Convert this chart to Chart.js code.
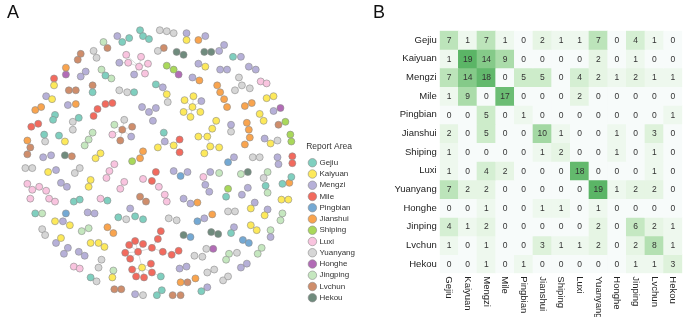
<!DOCTYPE html>
<html>
<head>
<meta charset="utf-8">
<script src="https://cdn.jsdelivr.net/npm/chart.js@4.4.1/dist/chart.umd.min.js"></script>
<style>
  body { margin: 0; background: #fff; font-family: "Liberation Sans", Arial, sans-serif; }
  #wrap { position: relative; width: 685px; height: 317px; overflow: hidden; }
  .tag { position: absolute; font-size: 18px; color: #111; line-height: 1; }
  #chartNet { position: absolute; left: 0; top: 0; }
  #chartHeat { position: absolute; left: 370px; top: 0; }
</style>
</head>
<body>
<div id="wrap">
  <canvas id="chartNet" width="365" height="317"></canvas>
  <canvas id="chartHeat" width="315" height="317"></canvas>
  <div class="tag" style="left:7px;top:3px">A</div>
  <div class="tag" style="left:373px;top:3px">B</div>
</div>
<script>
// ---- panel A: report areas and node positions of the network layout ----
const areas = ["Gejiu", "Kaiyuan", "Mengzi", "Mile", "Pingbian", "Jianshui", "Shiping", "Luxi", "Yuanyang", "Honghe", "Jingping", "Lvchun", "Hekou"];
const areaColors = ["#7fcfbf", "#fde95a", "#b6b0d8", "#f26a5e", "#74a9d4", "#f9a44e", "#a9d85a", "#f9c4df", "#d6d6d6", "#b26bb6", "#c5e7bf", "#cf8d6b", "#6f8b7d"];

const gejiu = [[137,26],[140,32],[146,35],[119,38],[126,34],[231,53],[102,72],[153,81],[89,89],[131,89],[51,112],[49,117],[75,115],[40,132],[55,133],[161,130],[158,276],[229,232],[224,195],[264,184],[290,175],[281,182],[70,200],[76,198],[104,199],[31,212],[115,216],[132,215],[140,218],[87,277],[154,295],[159,290],[199,291]];
const kaiyuan = [[184,36],[203,63],[50,82],[164,91],[48,96],[182,97],[191,93],[190,104],[198,109],[181,109],[188,114],[265,95],[272,93],[258,111],[262,118],[61,139],[214,118],[210,126],[205,134],[196,134],[208,144],[217,145],[202,151],[155,145],[171,143],[269,141],[92,156],[97,151],[44,170],[87,178],[85,185],[280,198],[287,198],[249,207],[263,214],[249,224],[255,229],[51,220],[66,224],[57,237],[87,242],[95,242],[101,246],[139,267],[109,277]];
const mengzi = [[114,32],[184,29],[203,32],[217,47],[222,41],[239,53],[116,59],[131,71],[77,73],[82,68],[196,60],[190,74],[218,66],[225,66],[247,63],[254,66],[160,84],[42,93],[199,98],[64,102],[139,104],[146,109],[153,105],[150,118],[272,108],[229,122],[128,134],[162,139],[263,136],[39,155],[47,153],[232,155],[276,155],[277,162],[52,168],[57,181],[63,185],[171,169],[185,170],[208,170],[203,183],[207,190],[246,186],[240,193],[181,197],[188,202],[253,201],[266,208],[59,220],[84,211],[91,212],[127,207],[202,217],[232,226],[269,236],[52,242],[64,247],[60,253],[75,251],[81,255],[177,268],[184,266],[239,267],[245,263],[205,287],[132,294]];
const mile = [[50,75],[94,106],[102,101],[109,100],[90,113],[27,124],[34,121],[177,137],[177,150],[291,154],[291,161],[149,179],[153,170],[158,230],[155,238],[149,247],[160,251],[169,254],[176,250],[140,243],[132,240],[126,244],[122,252],[135,251],[127,258],[129,269],[133,276],[141,277],[149,272],[148,263]];
const pingbian = [[226,160],[62,212],[178,174],[195,220],[188,236],[241,239],[247,242]];
const jianshui = [[196,36],[62,64],[197,77],[215,82],[218,89],[222,96],[225,104],[31,107],[37,104],[72,101],[243,103],[250,100],[245,120],[247,127],[248,135],[243,142],[23,138],[137,156],[140,149],[288,181],[195,201],[210,213],[104,226],[110,232],[178,282],[193,278]];
const shiping = [[164,62],[171,66],[284,119],[289,132],[290,139],[129,159],[226,187]];
const luxi = [[123,51],[138,53],[145,60],[136,63],[142,70],[125,59],[259,78],[265,80],[109,132],[111,162],[106,169],[103,176],[121,180],[117,187],[140,177],[156,185],[162,193],[164,200],[201,175],[23,182],[28,188],[35,185],[42,189],[45,197],[51,200],[26,197],[97,197],[70,266],[76,268]];
const yuanyang = [[157,26],[164,27],[171,29],[90,47],[93,54],[155,47],[237,74],[240,82],[233,87],[248,85],[116,87],[124,89],[165,99],[69,119],[69,127],[121,117],[229,129],[276,138],[41,139],[251,155],[258,155],[21,166],[28,166],[71,171],[76,166],[262,176],[123,218],[166,217],[174,219],[226,210],[233,210],[38,228],[41,234],[204,248],[192,255],[200,256],[235,252],[98,259],[95,267],[205,272],[212,269],[221,280],[226,276],[93,281],[140,295]];
const honghe = [[62,71],[176,71],[279,105],[211,248]];
const jingping = [[100,38],[98,66],[108,75],[111,122],[89,130],[85,137],[81,143],[217,171],[239,172],[266,170],[266,191],[38,212],[281,212],[279,219],[78,230],[85,227],[269,229],[110,270],[227,253],[224,259],[260,247],[256,253]];
const lvchun = [[104,44],[77,50],[74,56],[161,44],[65,87],[72,87],[89,82],[119,127],[129,124],[117,138],[277,122],[26,145],[23,152],[68,154],[137,195],[143,200],[111,289],[118,289],[185,282],[170,295],[178,295]];
const hekou = [[174,48],[181,51],[202,48],[209,48],[61,153],[246,170],[181,234],[209,231],[216,233]];
const nodesByArea = [gejiu, kaiyuan, mengzi, mile, pingbian, jianshui, shiping, luxi, yuanyang, honghe, jingping, lvchun, hekou];

// visible links of the larger clusters: [x1, y1, x2, y2]
const links = [
  [136,63,123,51],[136,63,138,53],[136,63,145,60],[136,63,142,70],[136,63,131,71],[136,63,125,59],[125,59,116,59],
  [190,104,182,97],[190,104,191,93],[190,104,199,98],[190,104,198,109],[190,104,188,114],[190,104,181,109],
  [214,118,210,126],[210,126,205,134],[205,134,196,134],[205,134,208,144],[208,144,217,145],[208,144,202,151],
  [119,127,121,117],[119,127,111,122],[119,127,129,124],[119,127,128,134],[119,127,117,138],[119,127,109,132],
  [161,130,162,139],[162,139,155,145],[162,139,171,143],[171,143,177,137],[171,143,177,150],
  [135,251,132,240],[135,251,126,244],[135,251,122,252],[135,251,127,258],[135,251,140,243],[135,251,149,247],
  [149,247,155,238],[155,238,158,230],[149,247,160,251],[160,251,169,254],[169,254,176,250],
  [135,251,139,267],[139,267,129,269],[139,267,133,276],[139,267,141,277],[139,267,149,272],[139,267,148,263],[149,272,158,276]
];

// ---- panel B: co-occurrence counts ----
const rowNames = ["Gejiu", "Kaiyuan", "Mengzi", "Mile", "Pingbian", "Jianshui", "Shiping", "Luxi", "Yuanyang", "Honghe", "Jinping", "Lvchun", "Hekou"];
const colNames = ["Gejiu", "Kaiyuan", "Mengzi", "Mile", "Pingbian", "Jianshui", "Shiping", "Luxi", "Yuanyang", "Honghe", "Jinping", "Lvchun", "Hekou"];
const counts = [
  [7, 1, 7, 1, 0, 2, 1, 1, 7, 0, 4, 1, 0],
  [1, 19, 14, 9, 0, 0, 0, 0, 2, 0, 1, 0, 0],
  [7, 14, 18, 0, 5, 5, 0, 4, 2, 1, 2, 1, 1],
  [1, 9, 0, 17, 0, 0, 0, 2, 0, 0, 0, 0, 0],
  [0, 0, 5, 0, 1, 0, 0, 0, 0, 0, 0, 0, 1],
  [2, 0, 5, 0, 0, 10, 1, 0, 0, 1, 0, 3, 0],
  [1, 0, 0, 0, 0, 1, 2, 0, 0, 1, 0, 1, 0],
  [1, 0, 4, 2, 0, 0, 0, 18, 0, 0, 0, 1, 0],
  [7, 2, 2, 0, 0, 0, 0, 0, 19, 1, 2, 2, 0],
  [0, 0, 1, 0, 0, 1, 1, 0, 1, 0, 0, 0, 0],
  [4, 1, 2, 0, 0, 0, 0, 0, 2, 0, 6, 2, 1],
  [1, 0, 1, 0, 0, 3, 1, 1, 2, 0, 2, 8, 1],
  [0, 0, 1, 0, 1, 0, 0, 0, 0, 0, 1, 1, 3]
];

const FONT = "'Liberation Sans', Arial, sans-serif";

// network
const linkPoints = [];
links.forEach(l => {
  linkPoints.push({ x: l[0], y: l[1] }, { x: l[2], y: l[3] }, { x: null, y: null });
});

new Chart(document.getElementById("chartNet"), {
  type: "scatter",
  data: {
    datasets: [
      ...areas.map((a, i) => ({
        label: a,
        data: nodesByArea[i].map(p => ({ x: p[0], y: p[1] })),
        backgroundColor: areaColors[i],
        borderColor: "#8c8c8c",
        borderWidth: 0.6,
        pointRadius: 3.5,
        order: 0,
      })),
      {
        type: "line",
        label: "links",
        data: linkPoints,
        borderColor: "#d2d2d2",
        borderWidth: 0.8,
        pointRadius: 0,
        spanGaps: false,
        order: 1,
      },
    ],
  },
  options: {
    responsive: false,
    animation: false,
    layout: { padding: { top: 0, bottom: 12 } },
    scales: {
      x: { type: "linear", min: 0, max: 305, display: false },
      y: { type: "linear", min: 0, max: 305, reverse: true, display: false },
    },
    plugins: {
      tooltip: { enabled: false },
      legend: {
        position: "right",
        align: "end",
        title: { display: true, text: "Report Area", position: "start", color: "#333", font: { family: FONT, size: 8.5 }, padding: { top: 0, bottom: 3 } },
        labels: {
          usePointStyle: true,
          pointStyle: "circle",
          boxWidth: 6,
          boxHeight: 6,
          padding: 3.25,
          color: "#333",
          font: { family: FONT, size: 8 },
          filter: item => item.text !== "links",
        },
      },
    },
  },
});

// heatmap
class DownCategoryScale extends Chart.CategoryScale {
  _getXAxisLabelAlignment() {
    return "left";
  }
}
DownCategoryScale.id = "downCategory";
DownCategoryScale.defaults = Chart.CategoryScale.defaults;
Chart.register(DownCategoryScale);

const greenStops = [[0, [247, 251, 250]], [1, [238, 248, 238]], [2, [230, 245, 228]], [5, [205, 236, 202]], [9, [171, 220, 170]], [14, [133, 202, 137]], [19, [91, 181, 102]]];
function greenFor(v) {
  for (let k = 1; k < greenStops.length; k++) {
    const [v1, c1] = greenStops[k];
    const [v0, c0] = greenStops[k - 1];
    if (v <= v1) {
      const t = (v - v0) / (v1 - v0);
      const c = c0.map((c, n) => Math.round(c + (c1[n] - c) * t));
      return "rgb(" + c.join(",") + ")";
    }
  }
  return "rgb(91,181,102)";
}

const cellText = {
  id: "cellText",
  afterDatasetsDraw(chart) {
    const ctx = chart.ctx;
    ctx.save();
    ctx.font = "8.5px " + FONT;
    ctx.fillStyle = "#333";
    ctx.textAlign = "center";
    ctx.textBaseline = "middle";
    chart.data.datasets.forEach((ds, i) => {
      chart.getDatasetMeta(i).data.forEach((bar, j) => {
        ctx.fillText(String(counts[i][j]), bar.x, (bar.y + bar.base) / 2 + 0.5);
      });
    });
    ctx.restore();
  },
};

new Chart(document.getElementById("chartHeat"), {
  type: "bar",
  data: {
    labels: colNames,
    datasets: rowNames.map((r, i) => ({
      label: r,
      data: counts[i].map(() => 1),
      backgroundColor: counts[i].map(greenFor),
      borderWidth: 0,
      barPercentage: 1,
      categoryPercentage: 1,
    })),
  },
  options: {
    responsive: false,
    animation: false,
    layout: { padding: { top: 30.7, right: 2.7, left: 0, bottom: 0 } },
    scales: {
      x: {
        type: "downCategory",
        stacked: true,
        grid: { display: false, drawTicks: false },
        border: { display: false },
        ticks: { minRotation: -90, maxRotation: -90, autoSkip: false, padding: 3, color: "#222", font: { family: FONT, size: 9.5 } },
        afterFit: s => { s.height = 43.7; },
      },
      y: {
        type: "linear",
        stacked: true,
        min: 0,
        max: 13,
        reverse: true,
        grid: { display: false, drawTicks: false },
        border: { display: false },
        afterBuildTicks: s => { s.ticks = rowNames.map((_, i) => ({ value: i + 0.5 })); },
        ticks: { autoSkip: false, padding: 3, color: "#222", font: { family: FONT, size: 9.5 }, callback: (v, i) => rowNames[i] },
        afterFit: s => { s.width = 69.7; },
      },
    },
    plugins: { legend: { display: false }, tooltip: { enabled: false } },
  },
  plugins: [cellText],
});
</script>
</body>
</html>
